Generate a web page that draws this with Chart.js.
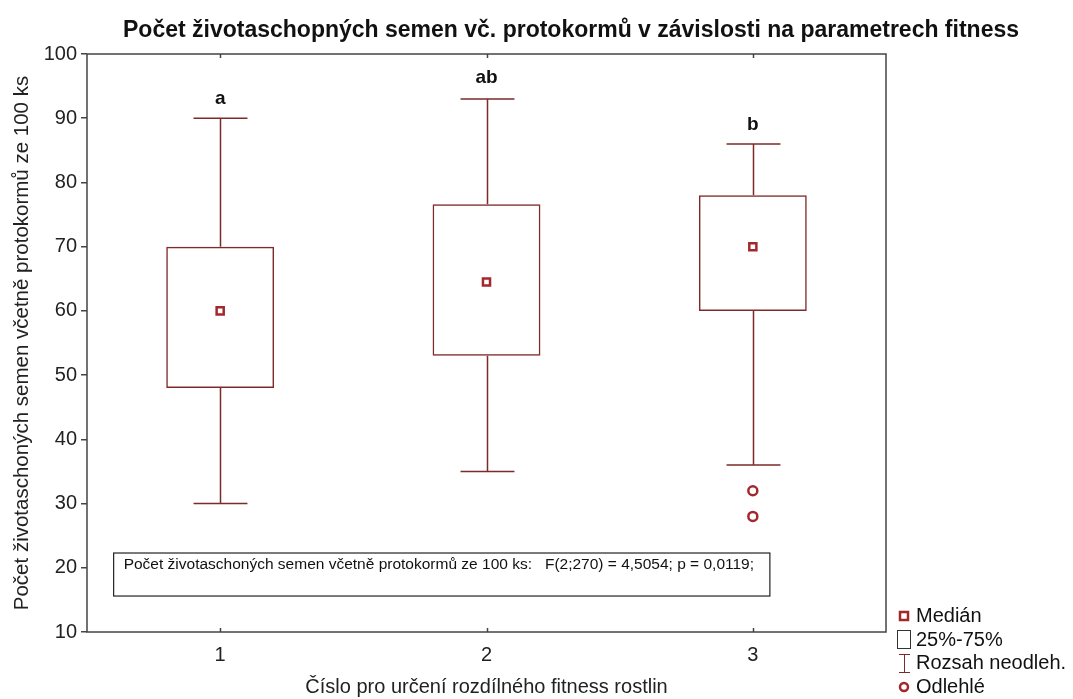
<!DOCTYPE html>
<html>
<head>
<meta charset="utf-8">
<script src="https://cdn.jsdelivr.net/npm/chart.js@4"></script>
<style>
  body { margin: 0; background: #fff; }
  #wrap { width: 1073px; height: 699px; }
</style>
</head>
<body>
<div id="wrap"><canvas id="boxChart" width="1073" height="699"></canvas></div>
<script>
// data
var groups = ["1", "2", "3"];
var whiskerLow = [30, 35, 36];
var q1 = [48, 53, 60];
var medians = [60, 64.5, 70];
var q3 = [70, 76.6, 78];
var whiskerHigh = [90, 93, 86];
var outliers = [{x: "3", y: 32}, {x: "3", y: 28}];
var letters = ["a", "ab", "b"];
var letterY = [93, 96.3, 89];
var yTicks = [10, 20, 30, 40, 50, 60, 70, 80, 90, 100];

var maroon = "#7e2a2a";
var axisColor = "#444";
var fontFam = "'Liberation Sans', Arial, sans-serif";

const extras = {
  id: "extras",
  afterDatasetsDraw(chart) {
    var ctx = chart.ctx;
    var xs = chart.scales.x, ys = chart.scales.y;
    var a = chart.chartArea;
    var boxW = chart.getDatasetMeta(0).data[0].width;

    // whiskers
    ctx.save();
    ctx.strokeStyle = maroon;
    ctx.lineWidth = 1.5;
    groups.forEach(function (g, i) {
      var px = Math.round(xs.getPixelForValue(i)) + 0.5;
      var hw = boxW / 4;
      ctx.beginPath();
      ctx.moveTo(px, ys.getPixelForValue(q3[i]));
      ctx.lineTo(px, ys.getPixelForValue(whiskerHigh[i]));
      ctx.moveTo(px - hw, ys.getPixelForValue(whiskerHigh[i]));
      ctx.lineTo(px + hw, ys.getPixelForValue(whiskerHigh[i]));
      ctx.moveTo(px, ys.getPixelForValue(q1[i]));
      ctx.lineTo(px, ys.getPixelForValue(whiskerLow[i]));
      ctx.moveTo(px - hw, ys.getPixelForValue(whiskerLow[i]));
      ctx.lineTo(px + hw, ys.getPixelForValue(whiskerLow[i]));
      ctx.stroke();
    });
    ctx.restore();

    // letters above groups
    ctx.save();
    ctx.fillStyle = "#111";
    ctx.font = "bold 19px " + fontFam;
    ctx.textAlign = "center";
    ctx.textBaseline = "middle";
    letters.forEach(function (t, i) {
      ctx.fillText(t, xs.getPixelForValue(i), ys.getPixelForValue(letterY[i]));
    });
    ctx.restore();

    // frame + inner ticks on x
    ctx.save();
    ctx.strokeStyle = axisColor;
    ctx.lineWidth = 1.5;
    ctx.strokeRect(a.left, a.top, a.right - a.left, a.bottom - a.top);
    groups.forEach(function (g, i) {
      var px = Math.round(xs.getPixelForValue(i)) + 0.5;
      ctx.beginPath();
      ctx.moveTo(px, a.bottom); ctx.lineTo(px, a.bottom - 4);
      ctx.moveTo(px, a.top); ctx.lineTo(px, a.top + 4);
      ctx.stroke();
    });
    ctx.restore();

    // stats box
    ctx.save();
    var bx1 = xs.getPixelForValue(-0.40), bx2 = xs.getPixelForValue(2.064);
    var by1 = ys.getPixelForValue(22.3), by2 = ys.getPixelForValue(15.6);
    ctx.fillStyle = "#fff";
    ctx.fillRect(bx1, by1, bx2 - bx1, by2 - by1);
    ctx.strokeStyle = "#222";
    ctx.lineWidth = 1.2;
    ctx.strokeRect(bx1, by1, bx2 - bx1, by2 - by1);
    ctx.fillStyle = "#111";
    ctx.font = "15.5px " + fontFam;
    ctx.textBaseline = "middle";
    ctx.fillText("Počet životaschoných semen včetně protokormů ze 100 ks:   F(2;270) = 4,5054; p = 0,0119;", bx1 + 10, by1 + 12);
    ctx.restore();

    // title
    ctx.save();
    ctx.fillStyle = "#111";
    ctx.font = "bold 23px " + fontFam;
    ctx.textAlign = "center";
    ctx.textBaseline = "middle";
    ctx.fillText("Počet životaschopných semen vč. protokormů v závislosti na parametrech fitness", 571, 31);
    ctx.restore();

    // legend
    ctx.save();
    var lx = 904;
    ctx.font = "20px " + fontFam;
    ctx.fillStyle = "#111";
    ctx.textBaseline = "middle";
    ctx.fillText("Medián", 916, 616);
    ctx.fillText("25%-75%", 916, 640);
    ctx.fillText("Rozsah neodleh.", 916, 663);
    ctx.fillText("Odlehlé", 916, 687);
    ctx.strokeStyle = "#a3282c";
    ctx.lineWidth = 2.5;
    ctx.strokeRect(lx - 4, 612, 8, 8);
    ctx.strokeStyle = "#333";
    ctx.lineWidth = 1;
    ctx.strokeRect(lx - 6.5, 630.5, 13, 18);
    ctx.strokeStyle = maroon;
    ctx.beginPath();
    ctx.moveTo(lx - 5, 654.5); ctx.lineTo(lx + 6, 654.5);
    ctx.moveTo(lx + 0.5, 654.5); ctx.lineTo(lx + 0.5, 672.5);
    ctx.moveTo(lx - 5, 672.5); ctx.lineTo(lx + 6, 672.5);
    ctx.stroke();
    ctx.strokeStyle = "#a3282c";
    ctx.lineWidth = 2.5;
    ctx.beginPath();
    ctx.arc(lx, 687, 4, 0, Math.PI * 2);
    ctx.stroke();
    ctx.restore();
  }
};

const boxPlot = () => {
  var ctx = document.getElementById("boxChart").getContext("2d");

  new Chart(ctx, {
    type: "bar",
    data: {
      labels: groups,
      datasets: [{
        label: "25%-75%",
        data: q1.map((v, i) => [v, q3[i]]),
        backgroundColor: "rgba(255,255,255,0)",
        borderColor: maroon,
        borderWidth: 1.5,
        borderSkipped: false,
        barPercentage: 0.405,
        categoryPercentage: 1
      }, {
        type: "line",
        label: "Medián",
        data: medians,
        showLine: false,
        pointStyle: "rect",
        pointRadius: 5,
        pointBorderWidth: 2.5,
        pointBackgroundColor: "#fff",
        pointBorderColor: "#a3282c"
      }, {
        type: "line",
        label: "Odlehlé",
        data: outliers,
        showLine: false,
        pointStyle: "circle",
        pointRadius: 4.5,
        pointBorderWidth: 2.5,
        pointBackgroundColor: "#fff",
        pointBorderColor: "#a3282c"
      }]
    },
    options: {
      responsive: false,
      animation: false,
      layout: { padding: { top: 54, right: 187, left: 0, bottom: 0 } },
      plugins: {
        legend: { display: false },
        tooltip: { enabled: false }
      },
      scales: {
        x: {
          offset: true,
          grid: { display: false },
          border: { display: false },
          ticks: { color: "#222", font: { size: 20, family: fontFam }, padding: 3 },
          title: {
            display: true,
            text: "Číslo pro určení rozdílného fitness rostlin",
            color: "#222",
            font: { size: 20, family: fontFam },
            padding: { top: 14, bottom: 0 }
          },
          afterFit: (s) => { s.height = 67; }
        },
        y: {
          min: 10,
          max: 100,
          afterBuildTicks: (s) => { s.ticks = yTicks.map(v => ({ value: v })); },
          grid: { drawOnChartArea: false, drawTicks: true, tickLength: 6, color: axisColor, lineWidth: 1.5 },
          border: { display: false },
          ticks: { color: "#222", font: { size: 20, family: fontFam }, padding: 4 },
          title: {
            display: true,
            text: "Počet životaschoných semen včetně protokormů ze 100 ks",
            color: "#222",
            font: { size: 20.5, family: fontFam },
            padding: { top: 10, bottom: 0 }
          },
          afterFit: (s) => { s.width = 87; }
        }
      }
    },
    plugins: [extras]
  });
};

boxPlot();
</script>
</body>
</html>
